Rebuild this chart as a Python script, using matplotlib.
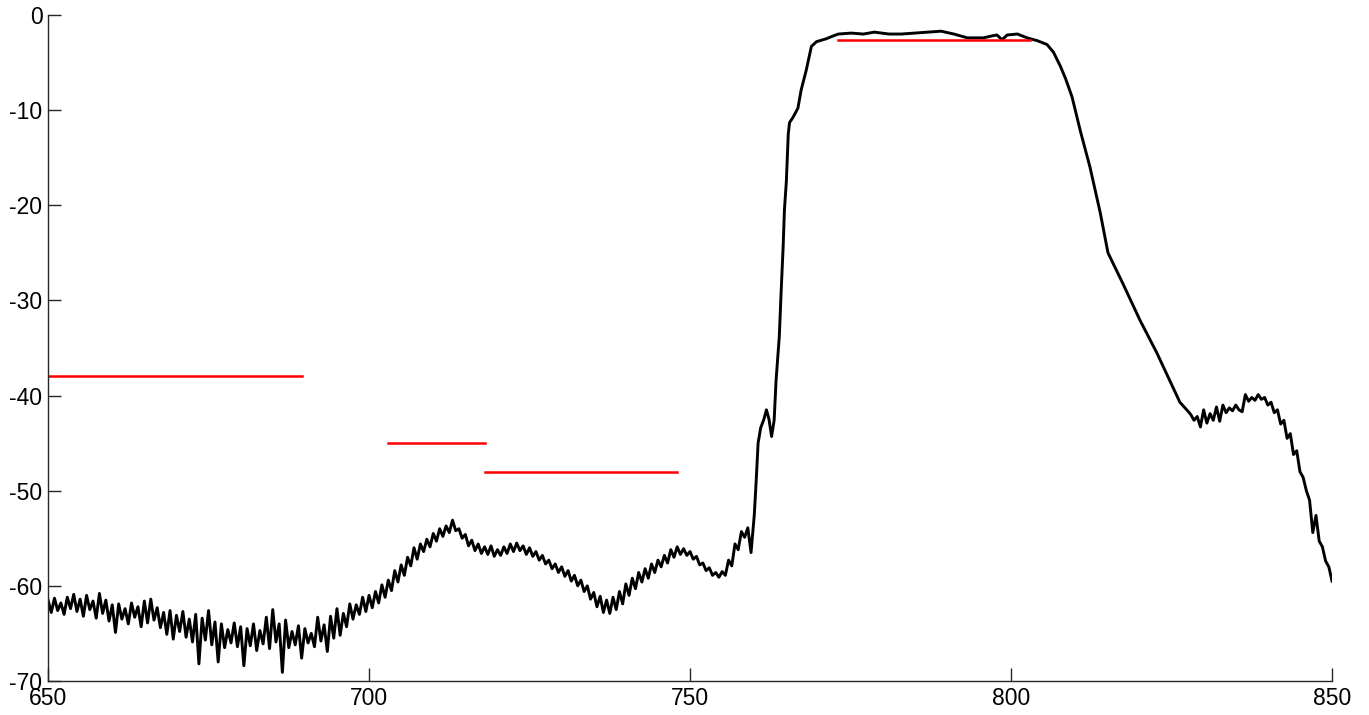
import numpy as np
import matplotlib
matplotlib.use("Agg")
import matplotlib.pyplot as plt

# noisy part of the spectrum, 650 - 759.5 nm in 0.5 nm steps
low_levels = [
    -61.5, -62.8, -61.3, -62.6, -61.8, -63.0, -61.2, -62.4, -60.9, -62.7,
    -61.4, -63.2, -61.0, -62.5, -61.6, -63.4, -60.8, -62.9, -61.5, -63.7,
    -62.0, -64.9, -61.9, -63.5, -62.4, -64.0, -61.8, -63.3, -62.2, -64.3,
    -61.6, -63.9, -61.4, -63.6, -62.3, -64.4, -62.8, -65.1, -62.6, -65.6,
    -63.1, -64.8, -62.7, -65.4, -63.5, -65.9, -63.0, -68.2, -63.4, -65.7,
    -62.6, -66.2, -63.8, -68.0, -64.0, -66.5, -64.6, -66.0, -63.9, -66.4,
    -64.3, -68.4, -64.5, -66.3, -64.0, -66.8, -64.7, -66.1, -63.3, -66.6,
    -62.5, -65.9, -64.0, -69.1, -63.6, -66.5, -64.8, -66.2, -64.2, -67.6,
    -64.5, -66.0, -65.0, -66.4, -63.3, -65.8, -64.1, -66.9, -63.2, -65.5,
    -62.4, -65.2, -62.9, -64.3, -61.9, -63.5, -62.0, -63.0, -61.2, -62.7,
    # 700 nm
    -61.0, -62.3, -60.6, -61.8, -59.9, -61.2, -59.4, -60.5, -58.4, -59.6,
    -57.8, -58.9, -57.0, -57.9, -56.0, -57.2, -55.6, -56.4, -55.1, -55.9,
    -54.5, -55.3, -54.0, -54.8, -53.7, -54.4, -53.1, -54.2, -54.0, -55.0,
    -54.6, -55.8, -55.2, -56.3, -55.6, -56.6, -55.9, -56.7, -55.8, -56.9,
    -56.2, -56.8, -55.9, -56.6, -55.6, -56.4, -55.5, -56.3, -55.8, -56.7,
    -56.0, -56.9, -56.4, -57.3, -56.8, -57.7, -57.3, -58.2, -57.7, -58.6,
    -58.0, -59.0, -58.4, -59.5, -58.9, -60.0, -59.4, -60.6, -60.0, -61.4,
    -60.7, -62.2, -61.1, -62.8, -61.5, -62.9, -61.2, -62.5, -60.6, -61.9,
    -59.8, -61.0, -59.2, -60.3, -58.6, -59.6, -58.2, -59.2, -57.7, -58.6,
    -57.3, -58.0, -56.8, -57.6, -56.2, -57.0, -55.9, -56.7, -56.1, -56.8,
    -56.4, -57.2, -56.9, -57.8, -57.6, -58.4, -58.1, -58.9, -58.6, -59.1,
    -58.5, -58.9, -57.3, -57.9, -55.6, -56.2, -54.3, -54.9, -53.9, -56.5,
]

# pass band, 760 - 828 nm
band_wl = [
    760.0, 760.3, 760.6, 761.0, 761.5, 761.9, 762.3, 762.7, 763.1, 763.4,
    763.9, 764.2, 764.5, 764.7, 765.0, 765.3, 765.5, 766.0, 766.8, 767.3,
    768.1, 768.9, 769.7, 771.2, 772.3, 773.1, 775.1, 777.0, 778.7, 781.0,
    782.9, 785.0, 787.1, 789.1, 791.1, 793.2, 795.7, 797.0, 797.8, 798.6,
    799.4, 801.0, 802.5, 804.1, 805.6, 806.6, 807.7, 808.5, 809.5, 810.8,
    812.3, 813.9, 815.1, 817.4, 820.1, 822.7, 825.2, 826.3, 827.5, 828.0,
]
band_levels = [
    -52.6, -49.0, -45.0, -43.4, -42.5, -41.5, -42.5, -44.3, -42.6, -38.4,
    -33.8, -28.9, -24.4, -20.5, -17.5, -12.5, -11.3, -10.8, -9.8, -7.9,
    -5.8, -3.3, -2.8, -2.5, -2.2, -2.0, -1.9, -2.0, -1.8, -2.0,
    -2.0, -1.9, -1.8, -1.7, -2.0, -2.4, -2.4, -2.2, -2.1, -2.6,
    -2.1, -2.0, -2.4, -2.7, -3.1, -3.9, -5.4, -6.7, -8.6, -12.2,
    -16.0, -20.8, -25.0, -28.2, -32.1, -35.5, -39.1, -40.7, -41.6, -42.0,
]

# upper tail, 828.5 - 850 nm in 0.5 nm steps
high_levels = [
    -42.6, -42.2, -43.3, -41.5, -42.9, -41.9, -42.6, -41.2, -42.7, -41.0,
    -41.8, -41.3, -41.6, -41.0, -41.5, -41.7, -39.9, -40.6, -40.2, -40.5,
    -39.9, -40.4, -40.2, -41.0, -40.7, -41.8, -41.5, -43.0, -42.6, -44.5,
    -44.0, -46.2, -45.8, -48.0, -48.6, -50.0, -51.0, -54.4, -52.6, -55.3,
    -55.9, -57.4, -58.0, -59.5,
]

# mask segments: start, stop, level
mask_start = [650, 703, 718, 773]
mask_stop = [689.5, 718, 748, 803]
mask_level = [-37.9, -45, -48, -2.6]

low_wl = np.arange(len(low_levels)) * 0.5 + 650
high_wl = np.arange(len(high_levels)) * 0.5 + 828.5

wl = np.concatenate([low_wl, band_wl, high_wl])
level = np.concatenate([low_levels, band_levels, high_levels])

plt.rcParams['font.family'] = ['Liberation Sans', 'DejaVu Sans']
plt.rcParams['axes.unicode_minus'] = False

fig = plt.figure(figsize=(13.69, 7.15), dpi=100)
ax = fig.add_axes([0.0351, 0.0476, 0.9379, 0.9314])

ax.plot(wl, level, color='black', lw=2.1)
for s, e, lv in zip(mask_start, mask_stop, mask_level):
    ax.plot([s, e], [lv, lv], color='red', lw=1.8)

ax.set_xlim(650, 850)
ax.set_ylim(-70, 0)
ax.set_xticks(np.arange(650, 851, 50))
ax.set_yticks(np.arange(-70, 1, 10))

ax.spines['top'].set_visible(False)
ax.spines['right'].set_visible(False)
for sp in ['left', 'bottom']:
    ax.spines[sp].set_linewidth(1.0)
    ax.spines[sp].set_color('#262626')
ax.tick_params(direction='in', length=9.5, width=1.0, labelsize=16.5,
               colors='#262626', labelcolor='black', pad=4)

fig.savefig('out.png', dpi=100)
